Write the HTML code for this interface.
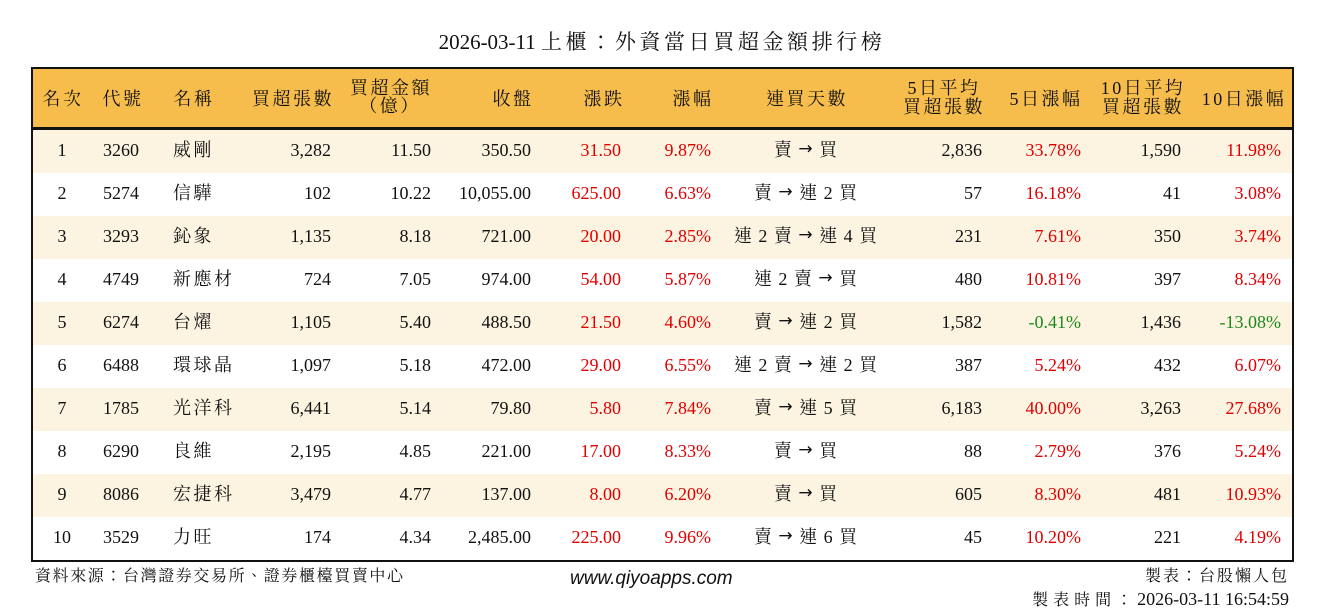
<!DOCTYPE html>
<html><head><meta charset="utf-8"><style>
*{margin:0;padding:0;box-sizing:border-box}
body{width:1324px;height:612px;background:#fff;position:relative;overflow:hidden;font-family:"Liberation Serif","Noto Serif CJK TC","Noto Serif CJK SC",serif;color:#111}
.t{position:absolute;white-space:nowrap;font-size:18px;line-height:20px}
.h{letter-spacing:2.5px}
.d{letter-spacing:1px}
.c{letter-spacing:3px}
.r{color:#e00000}.g{color:#1a8a1a}
.a{font-family:"DejaVu Sans",sans-serif;font-size:17px;position:relative;top:-2px}
#tbl{position:absolute;left:31px;top:67px;width:1263px;height:495px;border:2px solid #111}
.row{position:absolute;left:0;width:1259px;height:43px}
</style></head><body>
<div class="t" style="left:0;width:1324px;text-align:center;top:30px;font-size:21px;line-height:24px">2026-03-11 <span style="letter-spacing:3.6px">上櫃：外資當日買超金額排行榜</span></div>
<div id="tbl">
<div class="row" style="top:0;height:61px;background:#f6bd4d;border-bottom:3px solid #111"></div>
<div id="rows"></div>
</div>
<div id="txt"></div>
<div class="t" style="left:35px;top:567px;font-size:16px;letter-spacing:1.6px">資料來源：台灣證券交易所、證券櫃檯買賣中心</div>
<div class="t" style="left:570px;top:569px;font-family:'Liberation Sans',sans-serif;font-style:italic;font-size:19px">www.qiyoapps.com</div>
<div class="t" style="right:35px;top:567px;font-size:16px;letter-spacing:2px">製表：台股懶人包</div>
<div class="t" style="right:35px;top:589px;font-size:16px"><span style="letter-spacing:5px">製表時間：</span><span style="font-size:18px">2026-03-11 16:54:59</span></div>
<script>
const data=[
["1","3260","威剛","3,282","11.50","350.50","31.50","9.87%","賣 → 買","2,836","33.78%","1,590","11.98%"],
["2","5274","信驊","102","10.22","10,055.00","625.00","6.63%","賣 → 連 2 買","57","16.18%","41","3.08%"],
["3","3293","鈊象","1,135","8.18","721.00","20.00","2.85%","連 2 賣 → 連 4 買","231","7.61%","350","3.74%"],
["4","4749","新應材","724","7.05","974.00","54.00","5.87%","連 2 賣 → 買","480","10.81%","397","8.34%"],
["5","6274","台燿","1,105","5.40","488.50","21.50","4.60%","賣 → 連 2 買","1,582","-0.41%","1,436","-13.08%"],
["6","6488","環球晶","1,097","5.18","472.00","29.00","6.55%","連 2 賣 → 連 2 買","387","5.24%","432","6.07%"],
["7","1785","光洋科","6,441","5.14","79.80","5.80","7.84%","賣 → 連 5 買","6,183","40.00%","3,263","27.68%"],
["8","6290","良維","2,195","4.85","221.00","17.00","8.33%","賣 → 買","88","2.79%","376","5.24%"],
["9","8086","宏捷科","3,479","4.77","137.00","8.00","6.20%","賣 → 買","605","8.30%","481","10.93%"],
["10","3529","力旺","174","4.34","2,485.00","225.00","9.96%","賣 → 連 6 買","45","10.20%","221","4.19%"]];
let rows='',txt='';
const T=(x,y,s,al,c)=>{let st=al=='c'?`left:${x-150}px;width:300px;text-align:center`:al=='r'?`right:${1324-x}px`:`left:${x}px`;return `<div class="t ${c||''}" style="${st};top:${y}px">${s}</div>`};
const hy=89;
const H=(x,y,s)=>T(x,y,s,'c','h');
txt+=H(63,hy,'名次')+H(123,hy,'代號')+H(194,hy,'名稱')+H(293,hy,'買超張數');
txt+=H(391,78,'買超金額')+H(390,96,'（億）')+H(513,hy,'收盤')+H(604,hy,'漲跌')+H(693,hy,'漲幅')+H(807,hy,'連買天數');
txt+=H(944,78,'5日平均')+H(944,97,'買超張數')+H(1046,hy,'5日漲幅')+H(1143,78,'10日平均')+H(1143,97,'買超張數')+H(1244,hy,'10日漲幅');
data.forEach((d,i)=>{
 const top=61+i*43;
 rows+=`<div class="row" style="top:${top}px;background:${i%2==0?'#fdf3e1':'#fff'}"></div>`;
 const y=67+top+12;
 const red=d[10].startsWith('-')?'g':'r', red2=d[12].startsWith('-')?'g':'r';
 const days=d[8].replace('→','<span class="a">→</span>');
 txt+=T(62,y,d[0],'c')+T(103,y,d[1],'l')+T(173,y,d[2],'l','h')+T(331,y,d[3],'r')+T(431,y,d[4],'r')+T(531,y,d[5],'r')
 +T(621,y,d[6],'r','r')+T(711,y,d[7],'r','r')+T(806,y,days,'c','d')+T(982,y,d[9],'r')+T(1081,y,d[10],'r',red)+T(1181,y,d[11],'r')+T(1281,y,d[12],'r',red2);
});
document.getElementById('rows').innerHTML=rows;
document.getElementById('txt').innerHTML=txt;
</script>
</body></html>
